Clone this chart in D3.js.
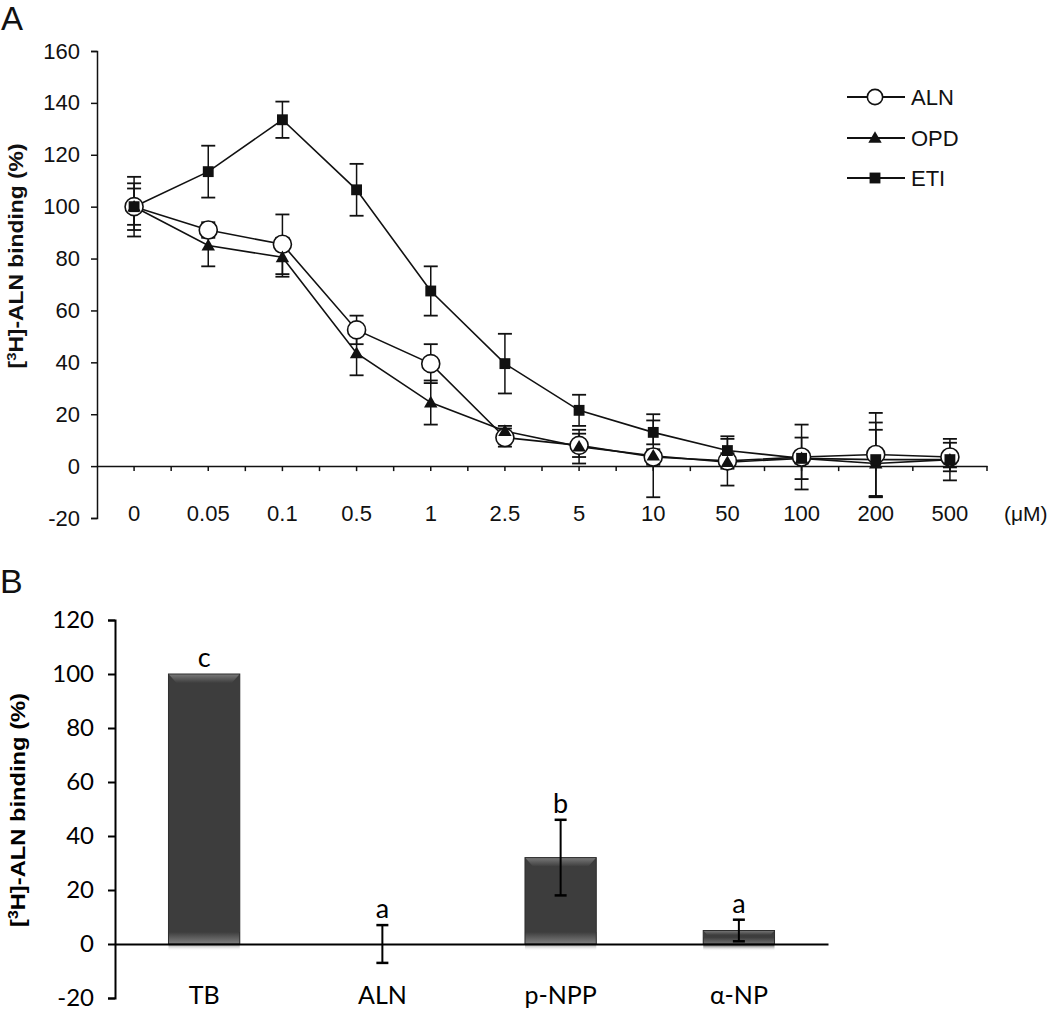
<!DOCTYPE html>
<html>
<head>
<meta charset="utf-8">
<script src="https://cdn.jsdelivr.net/npm/d3@7"></script>
<style>
  body { margin: 0; background: #fff; }
  svg { display: block; }
</style>
</head>
<body>
<script>
// ---------- Panel A data ----------
const concentrations = ["0","0.05","0.1","0.5","1","2.5","5","10","50","100","200","500"];
const alnMean = [100, 91, 85.5, 52.5, 39.5, 11, 8, 3.5, 2, 3.5, 4.5, 3.5];
const alnErr  = [9, 3, 11.5, 5.5, 7.5, 3.5, 4.5, 3, 3, 12.5, 16, 5.5];
const opdMean = [100, 85, 80.5, 43.5, 24.5, 13.5, 7.5, 4, 1.5, 3, 1, 2.5];
const opdErr  = [7, 8, 7.5, 8.5, 8.5, 2, 6.5, 16, 9, 2, 13, 3];
const etiMean = [100, 113.5, 133.5, 106.5, 67.5, 39.5, 21.5, 13, 6, 3, 2.5, 2.5];
const etiErr  = [11.5, 10, 7, 10, 9.5, 11.5, 6, 4.6, 5.5, 8, 14.3, 8];
const seriesNames = ["ALN", "OPD", "ETI"];
const yTicksA = [-20, 0, 20, 40, 60, 80, 100, 120, 140, 160];

// ---------- Panel B data ----------
const groupsB = ["TB", "ALN", "p-NPP", "α-NP"];
const meanB = [100, 0, 32, 5];
const errB  = [0, 7, 14, 4];
const lettersB = ["c", "a", "b", "a"];
const yTicksB = [-20, 0, 20, 40, 60, 80, 100, 120];

const svg = d3.select("body").append("svg").attr("width", 1050).attr("height", 1014);
const fontA = "'Liberation Sans', Arial, sans-serif";
const fontB = "Lato, 'Liberation Sans', sans-serif";
const ink = "#111";
const plainFmt = d => String(d);

const defs = svg.append("defs");
const gTop = defs.append("linearGradient").attr("id", "bevelTop").attr("x1", 0).attr("y1", 0).attr("x2", 0).attr("y2", 1);
gTop.append("stop").attr("offset", "0%").attr("stop-color", "#7a7a7a");
gTop.append("stop").attr("offset", "100%").attr("stop-color", "#3d3d3d");
const gBot = defs.append("linearGradient").attr("id", "bevelBot").attr("x1", 0).attr("y1", 0).attr("x2", 0).attr("y2", 1);
gBot.append("stop").attr("offset", "0%").attr("stop-color", "#3d3d3d");
gBot.append("stop").attr("offset", "60%").attr("stop-color", "#7d7d7d");
gBot.append("stop").attr("offset", "100%").attr("stop-color", "#ffffff").attr("stop-opacity", 0);

// ================= PANEL A =================
const xA = d3.scaleBand().domain(concentrations).range([97, 987]).padding(0);
const yA = d3.scaleLinear().domain([-20, 160]).range([518, 51]);
const cx = c => xA(c) + xA.bandwidth() / 2;

svg.append("text").attr("x", 1).attr("y", 30).attr("font-family", fontA)
  .attr("font-size", 33).attr("fill", ink).text("A");

// y axis
const yAxA = svg.append("g").attr("transform", "translate(97,0)")
  .call(d3.axisLeft(yA).tickValues(yTicksA).tickFormat(plainFmt).tickSize(6).tickSizeOuter(6).tickPadding(11));
yAxA.selectAll("text").attr("font-family", fontA).attr("font-size", 22).attr("fill", ink);
yAxA.selectAll("path,line").attr("stroke", ink).attr("stroke-width", 1.5);

// x axis at zero
const xAxA = svg.append("g").attr("transform", `translate(0,${yA(0)})`)
  .call(d3.axisBottom(xA).tickSize(5).tickSizeOuter(0).tickPadding(34));
xAxA.selectAll("text").attr("font-family", fontA).attr("font-size", 22).attr("fill", ink);
xAxA.selectAll("path,line").attr("stroke", ink).attr("stroke-width", 1.5);
// band boundary ticks
const bounds = concentrations.slice(1).map(c => xA(c)).concat([xA.range()[1]]);
xAxA.selectAll("line.bound").data(bounds).enter().append("line").attr("class", "bound")
  .attr("x1", d => d).attr("x2", d => d).attr("y1", 0).attr("y2", 5)
  .attr("stroke", ink).attr("stroke-width", 1.5);

svg.append("text").attr("x", 1004).attr("y", yA(0) + 47 + 8).attr("font-family", fontA)
  .attr("font-size", 21).attr("fill", ink).text("(μM)");

// y label
const ylabA = svg.append("text")
  .attr("transform", `translate(23,${256}) rotate(-90)`)
  .attr("text-anchor", "middle").attr("font-family", fontA).attr("font-weight", "bold")
  .attr("font-size", 20).attr("fill", ink)
  .attr("textLength", 225).attr("lengthAdjust", "spacingAndGlyphs");
ylabA.append("tspan").text("[");
ylabA.append("tspan").attr("font-size", 13).attr("dy", -7).text("3");
ylabA.append("tspan").attr("dy", 7).text("H]-ALN binding (%)");

const seriesData = [
  { name: seriesNames[0], mean: alnMean, err: alnErr, marker: "circle" },
  { name: seriesNames[1], mean: opdMean, err: opdErr, marker: "triangle" },
  { name: seriesNames[2], mean: etiMean, err: etiErr, marker: "square" }
];

const line = d3.line().x((d, i) => cx(concentrations[i])).y(d => yA(d));
const capW = 7;

// error bars
seriesData.forEach(s => {
  const g = svg.append("g");
  concentrations.forEach((c, i) => {
    const x = cx(c), lo = yA(s.mean[i] - s.err[i]), hi = yA(s.mean[i] + s.err[i]);
    g.append("line").attr("x1", x).attr("x2", x).attr("y1", lo).attr("y2", hi).attr("stroke", ink).attr("stroke-width", 1.5);
    g.append("line").attr("x1", x - capW).attr("x2", x + capW).attr("y1", lo).attr("y2", lo).attr("stroke", ink).attr("stroke-width", 1.8);
    g.append("line").attr("x1", x - capW).attr("x2", x + capW).attr("y1", hi).attr("y2", hi).attr("stroke", ink).attr("stroke-width", 1.8);
  });
});

// lines
seriesData.forEach(s => {
  svg.append("path").datum(s.mean).attr("d", line).attr("fill", "none")
    .attr("stroke", ink).attr("stroke-width", 1.6);
});

function drawMarker(g, type, x, y, scale) {
  const k = scale || 1;
  if (type === "circle") {
    g.append("circle").attr("cx", x).attr("cy", y).attr("r", 9 * k)
      .attr("fill", "#fff").attr("stroke", ink).attr("stroke-width", 1.6);
  } else if (type === "triangle") {
    g.append("path").attr("transform", `translate(${x},${y + 1})`)
      .attr("d", d3.symbol().type(d3.symbolTriangle).size(78 * k * k)()).attr("fill", ink);
  } else {
    g.append("path").attr("transform", `translate(${x},${y})`)
      .attr("d", d3.symbol().type(d3.symbolSquare).size(118 * k * k)()).attr("fill", ink);
  }
}

// markers
seriesData.forEach(s => {
  const g = svg.append("g");
  concentrations.forEach((c, i) => drawMarker(g, s.marker, cx(c), yA(s.mean[i])));
});

// legend
const legY = [97, 138, 178];
seriesData.forEach((s, i) => {
  const g = svg.append("g");
  g.append("line").attr("x1", 847).attr("x2", 905).attr("y1", legY[i]).attr("y2", legY[i])
    .attr("stroke", ink).attr("stroke-width", 1.8);
  drawMarker(g, s.marker, 875, legY[i], s.marker === "circle" ? 0.85 : 1);
  g.append("text").attr("x", 911).attr("y", legY[i] + 8).attr("font-family", fontA)
    .attr("font-size", 22).attr("fill", ink).text(s.name);
});

// ================= PANEL B =================
const xB = d3.scaleBand().domain(groupsB).range([115, 828]).paddingInner(0.6).paddingOuter(0.3);
const yB = d3.scaleLinear().domain([-20, 120]).range([998, 620]);
const cxB = g => xB(g) + xB.bandwidth() / 2;

svg.append("text").attr("x", 0).attr("y", 593).attr("font-family", fontA)
  .attr("font-size", 34).attr("fill", ink).text("B");

// bars
const bw = xB.bandwidth();
groupsB.forEach((grp, i) => {
  const v = meanB[i];
  if (v <= 0) return;
  const x = xB(grp), y0 = yB(0), y1 = yB(v), h = y0 - y1;
  const g = svg.append("g");
  g.append("rect").attr("x", x).attr("y", y1).attr("width", bw).attr("height", h).attr("fill", "#3d3d3d");
  const bev = Math.min(9, h / 3);
  g.append("path").attr("d", `M${x},${y1}L${x + bw},${y1}L${x + bw - bev * 0.9},${y1 + bev}L${x + bev * 0.9},${y1 + bev}Z`)
    .attr("fill", "url(#bevelTop)");
  const bb = Math.min(12, h / 2);
  g.append("rect").attr("x", x).attr("y", y0 - bb).attr("width", bw).attr("height", bb + 7).attr("fill", "url(#bevelBot)");
  g.append("rect").attr("x", x).attr("y", y1).attr("width", bw).attr("height", h)
    .attr("fill", "none").attr("stroke", "#2e2e2e").attr("stroke-width", 1);
});

// x axis line at zero
const xAxB = svg.append("g").attr("transform", `translate(0,${yB(0)})`)
  .call(d3.axisBottom(xB).tickSize(0).tickSizeOuter(0).tickPadding(50));
xAxB.select("path").attr("stroke", "#000").attr("stroke-width", 2);
xAxB.selectAll("text").attr("font-family", fontB).attr("font-size", 25).attr("fill", "#000")
  .attr("dy", null).attr("y", 60);

// y axis
const yAxB = svg.append("g").attr("transform", "translate(115,0)")
  .call(d3.axisLeft(yB).tickValues(yTicksB).tickFormat(plainFmt).tickSize(7).tickSizeOuter(7).tickPadding(14));
yAxB.selectAll("text").attr("font-family", fontB).attr("font-size", 24).attr("fill", "#000");
yAxB.selectAll("path,line").attr("stroke", "#000").attr("stroke-width", 2);

// error bars & letters
groupsB.forEach((grp, i) => {
  const x = cxB(grp), m = meanB[i], e = errB[i];
  if (e > 0) {
    const lo = yB(m - e), hi = yB(m + e);
    svg.append("line").attr("x1", x).attr("x2", x).attr("y1", lo).attr("y2", hi).attr("stroke", "#000").attr("stroke-width", 2);
    [lo, hi].forEach(yy => svg.append("line").attr("x1", x - 6).attr("x2", x + 6).attr("y1", yy).attr("y2", yy)
      .attr("stroke", "#000").attr("stroke-width", 2.5));
  }
  svg.append("text").attr("x", x).attr("y", yB(m + e) - 7).attr("text-anchor", "middle")
    .attr("font-family", fontB).attr("font-size", 27).attr("fill", "#000").text(lettersB[i]);
});

const ylabB = svg.append("text")
  .attr("transform", `translate(25,${810}) rotate(-90)`)
  .attr("text-anchor", "middle").attr("font-family", fontA).attr("font-weight", "bold")
  .attr("font-size", 21).attr("fill", "#000")
  .attr("textLength", 234).attr("lengthAdjust", "spacingAndGlyphs");
ylabB.append("tspan").text("[");
ylabB.append("tspan").attr("font-size", 14).attr("dy", -7).text("3");
ylabB.append("tspan").attr("dy", 7).text("H]-ALN binding (%)");
</script>
</body>
</html>
